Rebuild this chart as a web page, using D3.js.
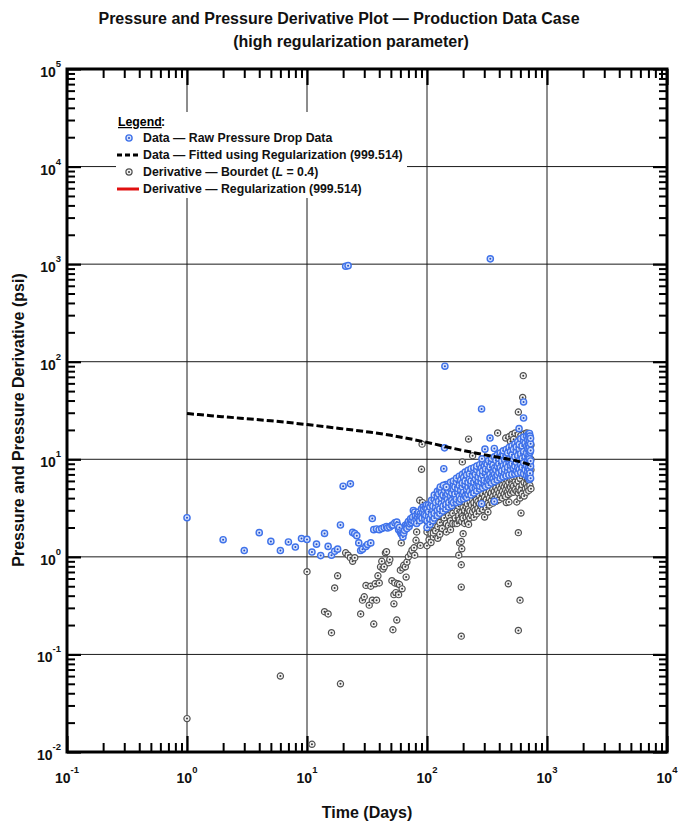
<!DOCTYPE html>
<html>
<head>
<meta charset="utf-8">
<script src="https://cdn.jsdelivr.net/npm/d3@7"></script>
<style>
  body { margin: 0; background: #fff; }
  svg { display: block; font-family: "Liberation Sans", Arial, sans-serif; }
</style>
</head>
<body>
<div id="chart"></div>
<script>
// Decade exponents used for major ticks / labels
const xTickExps = [-1, 0, 1, 2, 3, 4];
const yTickExps = [-2, -1, 0, 1, 2, 3, 4, 5];

// Raw pressure drop data, early (sparse) days: [days, psi]
const rawEarly = [
  [1,2.52],[2,1.5],[3,1.16],[4,1.77],[5,1.44],[6,1.16],[7,1.42],[8,1.26],[9,1.54],[10,1.51],
  [11,1.12],[12,1.35],[13,1.03],[14,1.74],[15,1.28],[16,1.04],[17,1.14],[18,1.2],[19,2.12],[20,5.3],
  [21,950],[22,965],[23,5.6],[24,1.78],[25,1.73],[26,1.65],[27,1.39],[28,1.16],[29,1.2],[31,1.28],
  [32,1.34],[34,1.39],[35,2.47],[36,1.9],[38,1.93],[40,1.9],[42,1.95],[44,2.0],[46,2.05],[47,1.98],
  [49,2.02],[51,2.1],[52,2.12],[54,2.24],[56,2.27],[57,2.1],[58,1.9],[59,2.0],[60,1.8],[61,1.73],
  [62,1.68],[63,1.6],[64,1.75],[65,1.87],[66,2.1],[67,2.02],[68,1.95],[69,2.2],[70,2.3],[71,2.05],
  [72,2.19],[73,2.45],[74,2.25],[75,2.37],[76,2.55],[77,2.99],[78,2.3],[79,2.88],[80,2.62],[81,2.4],
  [82,2.2],[83,2.56],[84,2.75],[85,2.88],[86,2.45],[87,2.35],[88,2.77],[89,2.6],[90,3.1],[91,2.5],
  [92,2.85],[93,3.24],[94,3.05],[95,2.7],[96,2.45],[97,3.2],[98,2.65],[99,3.4]
];

// Raw pressure drop data, dense late period: [days, [psi, ...]]
const rawBand = [
  [100,[2.0,2.35,3.1]],[103,[2.6,2.9,3.4]],[106,[2.15,2.45,3.25]],[109,[2.7,3.5,3.8]],
  [112,[2.35,3.0,3.3]],[115,[2.5,2.8,3.9,4.3]],[118,[3.2,3.6]],[122,[2.65,3.0,4.1,4.7]],
  [125,[3.3,3.7,4.4]],[128,[2.8,3.1,4.9]],[132,[3.5,4.0,4.6]],[136,[2.95,3.3,4.3,5.2]],
  [140,[3.7,4.8]],[144,[3.1,3.45,4.1,5.5]],[148,[3.9,4.4,5.1]],[152,[3.25,3.6,4.7]],
  [157,[4.2,5.0,5.8]],[161,[3.35,3.8,4.5]],[166,[3.6,4.9,5.5,6.0]],[171,[4.1,4.4,5.2]],
  [176,[3.6,3.9,5.8,6.4]],[181,[4.6,5.0]],[186,[3.7,4.2,5.4,6.7]],[191,[3.9,4.8,6.1]],
  [197,[4.4,5.2,5.7,7.0]],[202,[3.95,4.6,6.5]],[208,[4.2,5.5,6.0,7.4]],[214,[4.05,4.9,6.9]],
  [220,[4.4,5.2,5.8,7.7]],[226,[4.7,6.3,7.1]],[233,[4.3,5.5,6.0,8.0]],[240,[4.9,5.1,6.8]],
  [246,[4.5,5.8,7.4,8.2]],[253,[5.1,6.3,7.0]],[260,[4.75,5.4,7.8,8.5]],[268,[5.6,6.0,6.6]],
  [275,[4.95,5.3,7.2,8.8]],[283,[5.8,6.4,8.1]],[291,[5.1,6.9,7.6,9.1]],[300,[5.5,6.1,8.5]],
  [308,[5.25,7.3,8.0,9.3]],[317,[5.8,6.6,8.9]],[326,[5.45,6.2,7.7,9.7]],[335,[6.0,7.0,8.3]],
  [345,[5.7,6.5,9.3,10.2]],[355,[6.3,7.5,8.7]],[365,[5.9,7.0,8.1,10.6]],[375,[6.6,7.8,9.7]],
  [386,[6.15,6.9,8.5,11.1]],[397,[7.3,9.0,10.2]],[408,[6.4,8.0,8.2,11.6]],[420,[7.0,7.6,9.6,10.8]],
  [432,[6.6,8.6,11.0,12.2]],[444,[7.2,7.9,9.9]],[457,[6.75,8.9,10.5,12.6]],[470,[7.5,8.3,11.6]],
  [483,[6.9,9.4,10.1,13.2]],[497,[7.8,8.7,12.0]],[511,[7.0,9.0,11.1,13.7]],[525,[8.1,10.0,12.6]],
  [540,[7.1,8.5,10.6,14.4]],[555,[7.6,9.3,11.9,13.4]],[571,[7.2,8.2,10.9,15.2]],
  [587,[7.9,9.7,12.8,14.2]],[604,[7.3,8.8,11.4,16.2]],[621,[8.3,10.2,13.7]],
  [639,[7.1,9.2,12.0,15.4,16.9]],[657,[7.8,10.7,14.6]],[676,[6.8,8.6,11.6,13.6,17.3]],
  [690,[7.4,9.8,12.8,15.9]],[700,[6.6,8.2,10.4,14.1,18.1]],[708,[7.0,9.2,11.2,12.6,16.6]],
  [715,[6.2,7.8,10.1,13.4,15.2,18.4]],[722,[7.2,8.9,11.8,17.3]],[730,[6.4,8.5,9.6,12.3,14.4,16.4]]
];

// Raw pressure outliers: [days, psi]
const rawOutliers = [
  [129,5.2],[137,5.4],[145,5.2],[138,8.0],[140,13.1],[141,90],[285,32.8],[287,10.1],[304,12.7],
  [335,16.5],[337,1133],[364,12.9],[364,3.7],[285,3.5],[585,20.6],[638,26.5],[638,38.7]
];

// Bourdet derivative, early days: [days, psi]
const bourdetEarly = [
  [1,0.022],[6,0.06],[10,0.705],[11,0.012],[14,0.274],[15,0.26],[16,0.167],[17,0.48],[18,0.64],
  [19,0.05],[21,1.1],[22,1.04],[23,0.98],[24,0.9],[25,0.98],[28,0.26],[29,0.36],[30,0.39],
  [31,0.51],[33,0.32],[34,0.5],[35,0.36],[36,0.205],[37,0.53],[38,0.36],[39,0.64],[40,0.54],
  [41,0.79],[42,0.9],[43,0.75],[44,0.79],[45,1.1],[46,1.13],[48,0.87],[49,0.94],[51,0.57],
  [52,0.179],[53,0.41],[53,0.33],[54,0.54],[55,0.43],[56,0.225],[57,0.53],[58,0.41],[59,0.52],
  [60,0.73],[61,1.39],[62,0.47],[63,0.77],[64,0.82],[66,0.79],[67,0.62],[68,0.885],[70,1.0],
  [73,1.08],[75,1.17],[78,1.24],[79,1.04],[81,1.48],[82,1.8],[87,3.8],[88,1.31],[90,7.9],
  [91,14.3],[92,3.6]
];

// Bourdet derivative, dense late period: [days, [psi, ...]]
const bourdetBand = [
  [100,[1.3,1.8,2.3,2.7]],[104,[1.5,2.0,2.8]],[108,[1.4,1.75,2.5]],[113,[1.6,1.76,2.15,2.9]],
  [118,[1.85,2.4,3.1]],[123,[1.55,2.05,2.6]],[128,[1.7,2.25,3.0,3.3]],[134,[1.95,2.7]],
  [139,[2.37,2.5,3.15]],[145,[1.8,2.2,2.9,3.4]],[151,[2.1,2.65,3.3]],[157,[1.9,2.35,3.0]],
  [164,[2.2,2.8,3.6,5.1]],[172,[2.19,2.5,3.15,3.8]],[178,[2.2,2.95,3.4]],[184,[1.04,2.37,2.65,3.3]],
  [187,[1.39,2.4,6.6]],[193,[0.154,0.49,0.83,1.44]],[195,[1.21,2.3,2.85,3.75]],[197,[2.6,9.4]],
  [200,[1.73,2.5,3.2,4.0]],[206,[2.2,3.0,3.65]],[212,[2.55,3.3,4.15]],[217,[2.3,2.8,3.5]],
  [222,[2.15,2.65,3.1,4.25,16.1]],[228,[2.5,2.95,3.75]],[235,[2.7,3.4,4.35]],[240,[2.9,3.9,10.9]],
  [246,[2.55,3.15,3.6]],[252,[3.0,4.1,4.5]],[258,[2.75,3.45,3.85]],[266,[3.15,3.7,4.7]],
  [274,[2.95,3.5,4.25]],[283,[3.3,3.9,4.85]],[292,[3.05,3.65,4.45]],[302,[2.56,3.4,4.1,5.0]],
  [312,[3.2,3.85,4.6]],[322,[2.88,3.55,4.35,5.1]],[332,[3.4,4.0,4.75]],[343,[3.75,4.5,5.35]],
  [354,[3.55,4.15,4.95]],[365,[3.9,4.7,5.5]],[376,[3.7,4.35,5.1]],[388,[4.1,4.85,5.7,18.6]],
  [400,[3.85,4.5,5.3]],[413,[4.25,5.0,5.85]],[426,[4.0,4.7,5.45]],[440,[4.4,5.2,6.0]],
  [453,[4.15,4.85,5.6,16.5]],[458,[3.6]],[467,[4.6,5.35,6.1]],[476,[0.53,4.35]],
  [482,[3.65,5.0,5.8,17.0]],[496,[4.5,5.2,6.3,15.2]],[511,[4.75,5.5,6.4,18.0]],
  [527,[4.6,5.35,6.6,16.0]],[543,[4.9,5.9,7.2,18.6]],[560,[3.65,4.7,5.6,6.6]],
  [577,[0.176,1.77,4.5,6.0,8.8,18.0,30.5]],[584,[4.9,5.2,7.2,10.5]],[596,[0.36,4.0,6.4,9.5,14.0]],
  [607,[2.81,4.8,7.6,11.5,17.5]],[620,[4.4,5.5,6.8,8.4]],[627,[43]],[634,[72]],
  [645,[4.2,5.8,7.0,9.0,12.5,18.2]],[660,[5.0,6.5,8.0,10.0,14.5]],
  [676,[4.6,5.6,7.4,9.5,12.0,16.5,18.6]],[690,[5.2,6.2,8.2,10.8,13.8,17.8]],
  [705,[4.8,6.0,7.0,9.0,11.4,15.5,18.4]],[720,[5.4,6.6,8.6,12.5,17.0]],[735,[5.0,7.8,10.0,14.0]]
];

// Fitted pressure (regularization 999.514)
const fitDays = [1, 2, 5, 10, 20, 34, 50, 100, 167, 316, 600, 716];
const fitPsi  = [29.4, 27.3, 24.8, 22.7, 20.5, 18.9, 17.6, 14.9, 12.9, 11.0, 9.4, 8.8];

const flatten = band => band.flatMap(([t, ps]) => ps.map(p => [t, p]));
const rawPoints = rawEarly.concat(flatten(rawBand), rawOutliers);
const bourdetPoints = bourdetEarly.concat(flatten(bourdetBand));

// ---- chart ----
const width = 678, height = 829;
const plot = { left: 67, right: 667, top: 69, bottom: 752 };

const svg = d3.select('#chart').append('svg')
  .attr('width', width)
  .attr('height', height);

const x = d3.scaleLog().domain([0.1, 10000]).range([plot.left, plot.right]);
const y = d3.scaleLog().domain([0.01, 100000]).range([plot.bottom, plot.top]);

const majorX = xTickExps.map(e => Math.pow(10, e));
const majorY = yTickExps.map(e => Math.pow(10, e));
const minorOf = majors => majors.slice(0, -1).flatMap(m => d3.range(2, 10).map(k => k * m));

// grid lines
const grid = svg.append('g').attr('stroke', '#1a1a1a').attr('stroke-width', 1);
grid.selectAll('.gx').data(majorX.slice(1, -1)).join('line')
  .attr('x1', d => x(d)).attr('x2', d => x(d))
  .attr('y1', plot.top).attr('y2', plot.bottom);
grid.selectAll('.gy').data(majorY.slice(1, -1)).join('line')
  .attr('x1', plot.left).attr('x2', plot.right)
  .attr('y1', d => y(d)).attr('y2', d => y(d));

// inward ticks on all four sides
function addTicks(axisFn, scale, pos, values, size, sw) {
  const g = svg.append('g')
    .attr('transform', pos)
    .call(axisFn(scale).tickValues(values).tickSize(-size).tickSizeOuter(0).tickFormat(''));
  g.select('.domain').remove();
  g.selectAll('line').attr('stroke', '#000').attr('stroke-width', sw);
}
[[d3.axisBottom, `translate(0,${plot.bottom})`], [d3.axisTop, `translate(0,${plot.top})`]].forEach(([fn, pos]) => {
  addTicks(fn, x, pos, majorX, 16, 2.2);
  addTicks(fn, x, pos, minorOf(majorX), 9, 2);
});
[[d3.axisLeft, `translate(${plot.left},0)`], [d3.axisRight, `translate(${plot.right},0)`]].forEach(([fn, pos]) => {
  addTicks(fn, y, pos, majorY, 14, 2.2);
  addTicks(fn, y, pos, minorOf(majorY), 8, 2);
});

// frame
svg.append('rect')
  .attr('x', plot.left).attr('y', plot.top)
  .attr('width', plot.right - plot.left).attr('height', plot.bottom - plot.top)
  .attr('fill', 'none').attr('stroke', '#000').attr('stroke-width', 3);

// tick labels 10^n
const xl = svg.append('g').selectAll('text').data(xTickExps).join('text')
  .attr('x', d => x(Math.pow(10, d)))
  .attr('y', plot.bottom + 31)
  .attr('text-anchor', 'middle')
  .attr('font-weight', 'bold').attr('font-size', 14).attr('fill', '#111');
xl.append('tspan').text('10');
xl.append('tspan').attr('dy', -10).attr('font-size', 9.5).text(d => d);

const yl = svg.append('g').selectAll('text').data(yTickExps).join('text')
  .attr('x', 61)
  .attr('y', d => y(Math.pow(10, d)) + 8)
  .attr('text-anchor', 'end')
  .attr('font-weight', 'bold').attr('font-size', 14).attr('fill', '#111');
yl.append('tspan').text('10');
yl.append('tspan').attr('dy', -10).attr('font-size', 9.5).text(d => d);

// markers
const bourdetStyle = { fill: '#f4f4f4', stroke: '#505050', sw: 1.2, dot: '#3a3a3a' };
const rawStyle = { fill: '#d6e2fb', stroke: '#3f72ea', sw: 1.4, dot: '#2750c4' };

function drawMarkers(points, style) {
  const m = svg.append('g').selectAll('g').data(points).join('g')
    .attr('transform', d => `translate(${x(d[0])},${y(d[1])})`);
  m.append('circle').attr('r', 3.1)
    .attr('fill', style.fill).attr('stroke', style.stroke).attr('stroke-width', style.sw);
  m.append('circle').attr('r', 1).attr('fill', style.dot);
}

drawMarkers(bourdetPoints, bourdetStyle);
drawMarkers(rawPoints, rawStyle);

// fitted curve
const fitLine = d3.line()
  .x(d => x(d[0]))
  .y(d => y(d[1]))
  .curve(d3.curveMonotoneX);
svg.append('path')
  .datum(d3.zip(fitDays, fitPsi))
  .attr('d', fitLine)
  .attr('fill', 'none')
  .attr('stroke', '#000')
  .attr('stroke-width', 3)
  .attr('stroke-dasharray', '7,3');

// legend
const lg = svg.append('g');
lg.append('rect').attr('x', 116).attr('y', 112).attr('width', 291).attr('height', 86).attr('fill', '#fff');
lg.append('text').attr('x', 118).attr('y', 126)
  .attr('font-weight', 'bold').attr('font-size', 12.3)
  .attr('text-decoration', 'underline').text('Legend');
lg.append('text').attr('x', 161).attr('y', 126)
  .attr('font-weight', 'bold').attr('font-size', 12.3).text(':');

const legendLabels = [
  'Data \u2014 Raw Pressure Drop Data',
  'Data \u2014 Fitted using Regularization (999.514)',
  'Derivative \u2014 Bourdet (',
  'Derivative \u2014 Regularization (999.514)'
];
const rowY = [138, 155, 172, 189];

legendLabels.forEach((label, i) => {
  const t = lg.append('text').attr('x', 143).attr('y', rowY[i] + 4)
    .attr('font-weight', 'bold').attr('font-size', 12.3).attr('fill', '#111');
  t.append('tspan').text(label);
  if (i === 2) {
    t.append('tspan').attr('font-style', 'italic').text('L');
    t.append('tspan').text(' = 0.4)');
  }
});

function legendMarker(style, cy) {
  lg.append('circle').attr('cx', 129).attr('cy', cy).attr('r', 3.1)
    .attr('fill', style.fill).attr('stroke', style.stroke).attr('stroke-width', style.sw);
  lg.append('circle').attr('cx', 129).attr('cy', cy).attr('r', 1).attr('fill', style.dot);
}
legendMarker(rawStyle, rowY[0]);
legendMarker(bourdetStyle, rowY[2]);
lg.append('line').attr('x1', 117).attr('x2', 139).attr('y1', rowY[1]).attr('y2', rowY[1])
  .attr('stroke', '#000').attr('stroke-width', 3).attr('stroke-dasharray', '5,3');
lg.append('line').attr('x1', 117).attr('x2', 139).attr('y1', rowY[3]).attr('y2', rowY[3])
  .attr('stroke', '#e01010').attr('stroke-width', 3);

// titles
svg.append('text').attr('x', 339).attr('y', 24)
  .attr('text-anchor', 'middle').attr('font-weight', 'bold').attr('font-size', 16).attr('fill', '#111')
  .text('Pressure and Pressure Derivative Plot \u2014 Production Data Case');
svg.append('text').attr('x', 351).attr('y', 47)
  .attr('text-anchor', 'middle').attr('font-weight', 'bold').attr('font-size', 16).attr('fill', '#111')
  .text('(high regularization parameter)');

svg.append('text').attr('x', 367).attr('y', 818)
  .attr('text-anchor', 'middle').attr('font-weight', 'bold').attr('font-size', 16).attr('fill', '#111')
  .text('Time (Days)');
svg.append('text')
  .attr('transform', 'translate(24,420) rotate(-90)')
  .attr('text-anchor', 'middle').attr('font-weight', 'bold').attr('font-size', 16).attr('fill', '#111')
  .text('Pressure and Pressure Derivative (psi)');
</script>
</body>
</html>
